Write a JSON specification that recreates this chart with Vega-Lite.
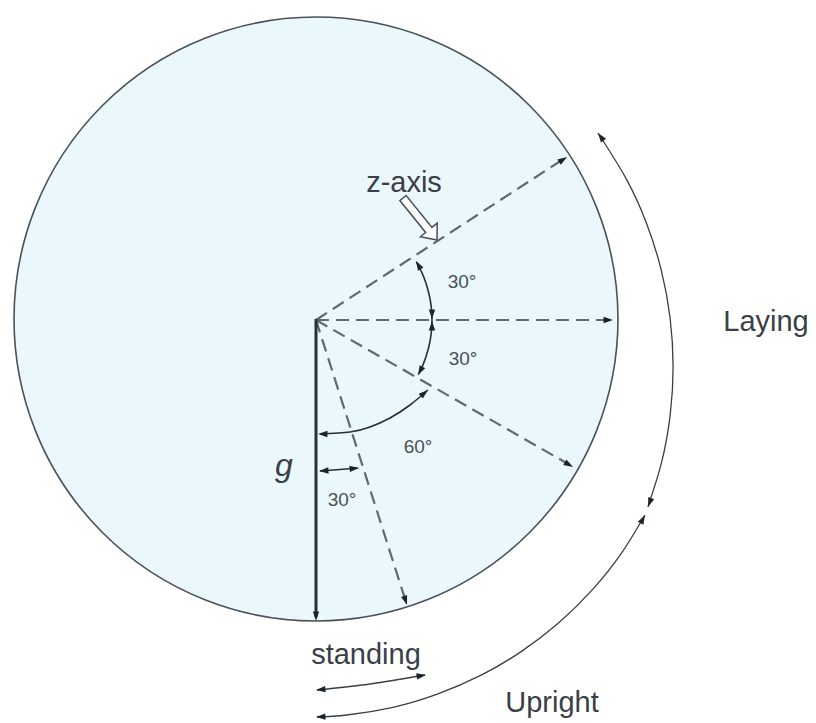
{
  "$schema": "https://vega.github.io/schema/vega-lite/v6.json",
  "width": 816,
  "height": 723,
  "padding": 0,
  "autosize": {"type": "fit", "contains": "padding"},
  "background": "white",
  "config": {"view": {"stroke": null}},
  "datasets": {
    "circle": [{"x": 316, "y": 319}],
    "dashed": [
      {"id": 1, "o": 0, "x": 316, "y": 320}, {"id": 1, "o": 1, "x": 565, "y": 158},
      {"id": 2, "o": 0, "x": 316, "y": 320}, {"id": 2, "o": 1, "x": 610, "y": 320},
      {"id": 3, "o": 0, "x": 316, "y": 320}, {"id": 3, "o": 1, "x": 570, "y": 465},
      {"id": 4, "o": 0, "x": 316, "y": 320}, {"id": 4, "o": 1, "x": 406, "y": 602}
    ],
    "solid": [{"o": 0, "x": 316, "y": 319}, {"o": 1, "x": 316, "y": 617}],
    "arcs": [
      {"id": "a1", "o": 0, "x": 416.5, "y": 262}, {"id": "a1", "o": 1, "x": 423.2, "y": 275.6}, {"id": "a1", "o": 2, "x": 428, "y": 290}, {"id": "a1", "o": 3, "x": 431, "y": 304.9}, {"id": "a1", "o": 4, "x": 432, "y": 320},
      {"id": "a2", "o": 0, "x": 432, "y": 320}, {"id": "a2", "o": 1, "x": 431, "y": 335.1}, {"id": "a2", "o": 2, "x": 428, "y": 350}, {"id": "a2", "o": 3, "x": 423.2, "y": 364.4}, {"id": "a2", "o": 4, "x": 418.4, "y": 374.5},
      {"id": "a3", "o": 0, "x": 428, "y": 390}, {"id": "a3", "o": 1, "x": 410, "y": 405}, {"id": "a3", "o": 2, "x": 390, "y": 418}, {"id": "a3", "o": 3, "x": 370, "y": 427}, {"id": "a3", "o": 4, "x": 350, "y": 432}, {"id": "a3", "o": 5, "x": 320, "y": 434},
      {"id": "a4", "o": 0, "x": 320, "y": 471}, {"id": "a4", "o": 1, "x": 340, "y": 469.5}, {"id": "a4", "o": 2, "x": 358, "y": 468}
    ],
    "outer": [
      {"id": "lay", "o": 0, "x": 598, "y": 133}, {"id": "lay", "o": 1, "x": 626.1, "y": 178.6}, {"id": "lay", "o": 2, "x": 646.5, "y": 223.2}, {"id": "lay", "o": 3, "x": 661.2, "y": 269.9}, {"id": "lay", "o": 4, "x": 670.1, "y": 318}, {"id": "lay", "o": 5, "x": 673.1, "y": 366.9}, {"id": "lay", "o": 6, "x": 670.1, "y": 415.8}, {"id": "lay", "o": 7, "x": 661.2, "y": 463.9}, {"id": "lay", "o": 8, "x": 647.9, "y": 506.7},
      {"id": "up", "o": 0, "x": 645, "y": 515}, {"id": "up", "o": 1, "x": 621.5, "y": 553.1}, {"id": "up", "o": 2, "x": 592.2, "y": 589.9}, {"id": "up", "o": 3, "x": 558.8, "y": 622.8}, {"id": "up", "o": 4, "x": 521.5, "y": 651.4}, {"id": "up", "o": 5, "x": 481.1, "y": 675.2}, {"id": "up", "o": 6, "x": 438, "y": 693.9}, {"id": "up", "o": 7, "x": 393, "y": 707.3}, {"id": "up", "o": 8, "x": 346.7, "y": 715}, {"id": "up", "o": 9, "x": 317, "y": 717},
      {"id": "st", "o": 0, "x": 317, "y": 690}, {"id": "st", "o": 1, "x": 370, "y": 684}, {"id": "st", "o": 2, "x": 425, "y": 675}
    ],
    "heads": [
      {"x": 567, "y": 157, "a": 57}, {"x": 613, "y": 320, "a": 90}, {"x": 573, "y": 467, "a": 120}, {"x": 407, "y": 605, "a": 162}, {"x": 316, "y": 621, "a": 180},
      {"x": 416, "y": 261, "a": -30}, {"x": 432, "y": 319, "a": 180}, {"x": 432, "y": 321, "a": 0}, {"x": 418, "y": 375, "a": 208},
      {"x": 428, "y": 390, "a": 50}, {"x": 318, "y": 434, "a": -90},
      {"x": 319, "y": 471, "a": -93}, {"x": 359, "y": 468, "a": 84},
      {"x": 598, "y": 133, "a": -36}, {"x": 648, "y": 507, "a": 200},
      {"x": 645, "y": 515, "a": 28}, {"x": 316, "y": 717, "a": -92},
      {"x": 316, "y": 690, "a": -96}, {"x": 426, "y": 675, "a": 81}
    ],
    "hollow": [{"x": 420, "y": 219, "a": 141}],
    "bigtext": [
      {"x": 404, "y": 192, "t": "z-axis"},
      {"x": 766, "y": 331, "t": "Laying"},
      {"x": 366, "y": 664, "t": "standing"},
      {"x": 552, "y": 712, "t": "Upright"}
    ],
    "deg": [
      {"x": 462, "y": 288, "t": "30°"},
      {"x": 463, "y": 365, "t": "30°"},
      {"x": 418, "y": 453, "t": "60°"},
      {"x": 342, "y": 506, "t": "30°"}
    ],
    "g": [{"x": 284, "y": 476, "t": "g"}]
  },
  "encoding": {
    "x": {"field": "x", "type": "quantitative", "scale": {"domain": [0, 816], "nice": false, "zero": false}, "axis": null},
    "y": {"field": "y", "type": "quantitative", "scale": {"domain": [0, 723], "nice": false, "zero": false, "reverse": true}, "axis": null}
  },
  "layer": [
    {
      "data": {"name": "circle"},
      "mark": {"type": "point", "shape": "circle", "size": 364816, "filled": true, "fill": "#eaf7fb", "stroke": "#4a525c", "strokeWidth": 1.6, "opacity": 1, "fillOpacity": 1}
    },
    {
      "data": {"name": "dashed"},
      "mark": {"type": "line", "color": "#606874", "strokeWidth": 2.2, "strokeDash": [13, 7]},
      "encoding": {"detail": {"field": "id"}, "order": {"field": "o", "type": "quantitative"}}
    },
    {
      "data": {"name": "solid"},
      "mark": {"type": "line", "color": "#2b313b", "strokeWidth": 3},
      "encoding": {"order": {"field": "o", "type": "quantitative"}}
    },
    {
      "data": {"name": "arcs"},
      "mark": {"type": "line", "color": "#2a303a", "strokeWidth": 1.6, "interpolate": "natural"},
      "encoding": {"detail": {"field": "id"}, "order": {"field": "o", "type": "quantitative"}}
    },
    {
      "data": {"name": "outer"},
      "mark": {"type": "line", "color": "#3a3f47", "strokeWidth": 1.3, "interpolate": "natural"},
      "encoding": {"detail": {"field": "id"}, "order": {"field": "o", "type": "quantitative"}}
    },
    {
      "data": {"name": "heads"},
      "mark": {"type": "point", "shape": "M0,0 L0.6,1.8 L-0.6,1.8 Z", "size": 110, "filled": true, "color": "#1e232b", "opacity": 1},
      "encoding": {"angle": {"field": "a", "type": "quantitative", "scale": null}}
    },
    {
      "data": {"name": "hollow"},
      "mark": {"type": "point", "shape": "M0,-1 L0.4,-0.52 L0.15,-0.52 L0.15,1 L-0.15,1 L-0.15,-0.52 L-0.4,-0.52 Z", "size": 2916, "filled": true, "fill": "white", "stroke": "#4a505a", "strokeWidth": 1.5, "opacity": 1, "fillOpacity": 1},
      "encoding": {"angle": {"field": "a", "type": "quantitative", "scale": null}}
    },
    {
      "data": {"name": "bigtext"},
      "mark": {"type": "text", "font": "Liberation Sans", "fontSize": 29, "color": "#3a3f47", "align": "center", "baseline": "alphabetic"},
      "encoding": {"text": {"field": "t"}}
    },
    {
      "data": {"name": "deg"},
      "mark": {"type": "text", "font": "Liberation Sans", "fontSize": 19, "color": "#4a505a", "align": "center", "baseline": "alphabetic"},
      "encoding": {"text": {"field": "t"}}
    },
    {
      "data": {"name": "g"},
      "mark": {"type": "text", "font": "Liberation Sans", "fontSize": 32, "fontStyle": "italic", "color": "#3a3f47", "align": "center", "baseline": "alphabetic"},
      "encoding": {"text": {"field": "t"}}
    }
  ]
}
